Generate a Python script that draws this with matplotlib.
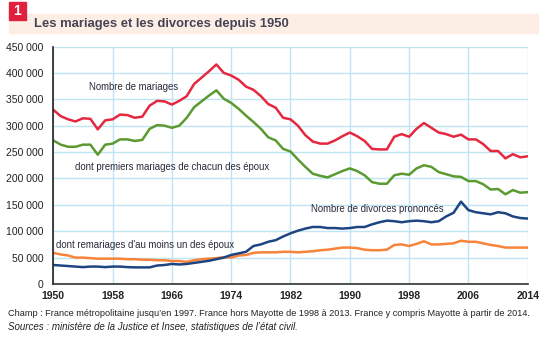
import matplotlib
matplotlib.use('Agg')
import matplotlib.pyplot as plt
from matplotlib.patches import Rectangle
from matplotlib.ticker import FuncFormatter

annees = list(range(1950, 2015))

mariages = [330, 318, 312, 308, 314, 313, 293, 310, 312, 321,
            320, 315, 317, 338, 347, 346, 340, 347, 356, 379,
            391, 403, 416, 400, 395, 387, 374, 368, 356, 341,
            334, 315, 312, 300, 282, 270, 266, 266, 272, 280,
            287, 280, 271, 256, 255, 255, 279, 284, 279, 294,
            305, 296, 287, 284, 279, 283, 274, 274, 265, 252,
            252, 238, 246, 240, 242]

premiers = [272, 264, 260, 260, 264, 264, 245, 264, 266, 274,
            274, 271, 273, 294, 301, 300, 296, 300, 315, 335,
            346, 357, 367, 351, 343, 332, 319, 307, 294, 278,
            272, 256, 251, 236, 222, 209, 205, 202, 208, 214,
            219, 214, 206, 193, 190, 190, 206, 209, 207, 219,
            225, 222, 212, 208, 204, 203, 195, 195, 189, 179,
            180, 170, 178, 173, 174]

remariages = [59, 56, 54, 50, 50, 49, 48, 48, 48, 48,
              47, 47, 46, 46, 45, 45, 43.5, 43.5, 42, 45,
              47, 48, 49, 51, 50, 54, 55, 59, 60, 60,
              60, 61, 61, 60, 61, 62, 64, 65, 67, 69,
              69, 68, 65, 64, 64, 65, 74, 75, 72, 76,
              81, 75, 75, 76, 77, 82, 80, 80, 77, 74,
              72, 69, 69, 69, 69]

divorces = [36, 35, 34, 33, 32, 33, 33, 32, 33, 33,
            32, 31.5, 31.5, 31.5, 35, 36, 38, 37, 38, 40,
            42, 44, 47, 50, 55, 58, 61, 72, 75, 80,
            83, 90, 96, 101, 105, 108, 108, 106, 106, 105,
            106, 108, 108, 113, 117, 120, 119, 117, 119, 120,
            119, 117, 119, 128, 135, 156, 140, 136, 134, 132,
            136, 134, 128, 125, 124]

etiquettes_x = [1950, 1958, 1966, 1974, 1982, 1990, 1998, 2006, 2014]
etiquettes_y = list(range(0, 450001, 50000))

rouge = '#e5283f'
vert = '#5b9a31'
bleu = '#1c4582'
orange = '#f8833a'
grille = '#bfe4f2'

plt.rcParams['font.family'] = ['Liberation Sans', 'DejaVu Sans']

fig = plt.figure(figsize=(5.45, 3.51), dpi=100)
ax = fig.add_axes([53.3 / 545, 1 - 284 / 351, (527.7 - 53.3) / 545, (284 - 46.5) / 351])

def milliers(v):
    return [x * 1000 for x in v]

ax.plot(annees, milliers(mariages), color=rouge, lw=1.8)
ax.plot(annees, milliers(premiers), color=vert, lw=1.8)
ax.plot(annees, milliers(remariages), color=orange, lw=1.8)
ax.plot(annees, milliers(divorces), color=bleu, lw=1.8)

ax.set_xlim(1950, 2014)
ax.set_ylim(0, 450000)
ax.set_xticks(etiquettes_x)
ax.set_yticks(etiquettes_y)
ax.yaxis.set_major_formatter(FuncFormatter(lambda v, p: f'{int(v):,}'.replace(',', ' ')))
ax.grid(True, color=grille, lw=1)
ax.set_axisbelow(True)
ax.tick_params(length=0, labelsize=7.5, colors='#222222')
ax.tick_params(axis='x', pad=5)
ax.tick_params(axis='y', pad=7)
for lab in ax.get_xticklabels():
    lab.set_fontweight('bold')
for s in ['top', 'right']:
    ax.spines[s].set_visible(False)
ax.spines['left'].set_color('#222222')
ax.spines['bottom'].set_color('#333333')
ax.spines['left'].set_linewidth(1.2)
ax.spines['bottom'].set_linewidth(1.2)

txt = dict(fontsize=6.9, color='#2a2a3a', va='center')
ax.text(1954.8, 373000, 'Nombre de mariages', **txt)
ax.text(1952.9, 222000, 'dont premiers mariages de chacun des époux', **txt)
ax.text(1950.4, 74000, "dont remariages d'au moins un des époux", **txt)
ax.text(1984.8, 143000, 'Nombre de divorces prononcés', **txt)

# bandeau du titre
fig.patches.append(Rectangle((9 / 545, 1 - 33 / 351), 529 / 545, 19 / 351,
                             transform=fig.transFigure, color='#fdeee5', zorder=0))
fig.patches.append(Rectangle((9 / 545, 1 - 20 / 351), 17 / 545, 18 / 351,
                             transform=fig.transFigure, color='#e0203c', zorder=1))
fig.text(17.5 / 545, 1 - 11 / 351, '1', color='white', fontsize=10, fontweight='bold',
         ha='center', va='center')
fig.text(34 / 545, 1 - 24 / 351, 'Les mariages et les divorces depuis 1950', color='#444455',
         fontsize=9.4, fontweight='bold', ha='left', va='center')

fig.text(8 / 545, 1 - 313 / 351,
         'Champ : France métropolitaine jusqu\u2019en 1997. France hors Mayotte de 1998 à 2013. '
         'France y compris Mayotte à partir de 2014.',
         fontsize=6.6, color='#222222', ha='left', va='center')
fig.text(8 / 545, 1 - 327 / 351,
         'Sources : ministère de la Justice et Insee, statistiques de l\u2019état civil.',
         fontsize=7.0, color='#222222', ha='left', va='center', style='italic')

fig.savefig('out.png', dpi=100)
